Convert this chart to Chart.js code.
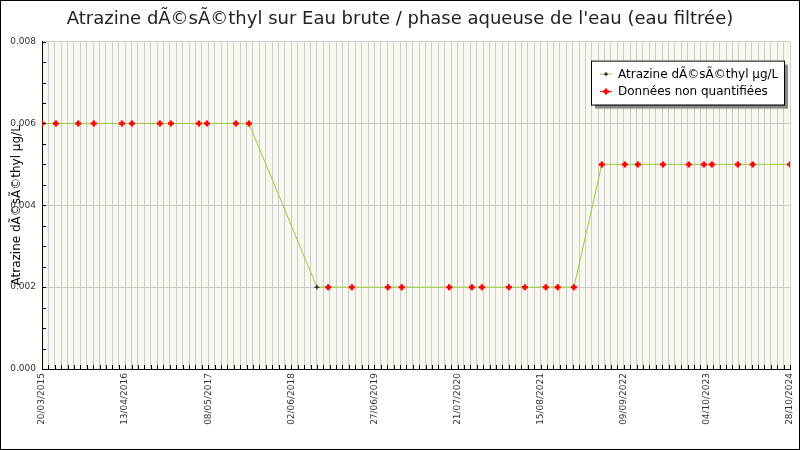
<!DOCTYPE html>
<html>
<head>
<meta charset="utf-8">
<script src="https://cdn.jsdelivr.net/npm/chart.js@4"></script>
<style>
  body { margin: 0; background: #fff; }
  #chart { display: block; }
</style>
</head>
<body>
<canvas id="chart" width="800" height="450"></canvas>
<script>
// sample dates and measured values (µg/L)
const sampleDates = [
    '20/03/2015', '24/05/2015', '06/09/2015', '18/11/2015', '29/03/2016', '15/05/2016',
    '23/09/2016', '14/11/2016', '25/03/2017', '02/05/2017', '15/09/2017', '15/11/2017',
    '30/09/2018', '22/11/2018', '13/03/2019', '29/08/2019', '02/11/2019', '12/06/2020',
    '26/09/2020', '12/11/2020', '19/03/2021', '02/06/2021', '08/09/2021', '03/11/2021',
    '18/01/2022', '29/05/2022', '14/09/2022', '14/11/2022', '12/03/2023', '11/07/2023',
    '20/09/2023', '27/10/2023', '26/02/2024', '06/05/2024', '28/10/2024'
];
const concentrations = [
    0.006, 0.006, 0.006, 0.006, 0.006, 0.006,
    0.006, 0.006, 0.006, 0.006, 0.006, 0.006,
    0.002, 0.002, 0.002, 0.002, 0.002, 0.002,
    0.002, 0.002, 0.002, 0.002, 0.002, 0.002,
    0.002, 0.005, 0.005, 0.005, 0.005, 0.005,
    0.005, 0.005, 0.005, 0.005, 0.005
];
// true = quantified, false = below quantification limit
const quantified = [
    false, false, false, false, false, false,
    false, false, false, false, false, false,
    true, false, false, false, false, false,
    false, false, false, false, false, false,
    false, false, false, false, false, false,
    false, false, false, false, false
];
const xTickLabels = [
    '20/03/2015', '13/04/2016', '08/05/2017', '02/06/2018', '27/06/2019',
    '21/07/2020', '15/08/2021', '09/09/2022', '04/10/2023', '28/10/2024'
];
const yTickLabels = ['0.000', '0.002', '0.004', '0.006', '0.008'];

const DAY = 86400000;
function toDays(s) {
    const [d, m, y] = s.split('/').map(Number);
    return Date.UTC(y, m - 1, d) / DAY;
}
const origin = toDays(xTickLabels[0]);
const xEnd = toDays(xTickLabels[xTickLabels.length - 1]) - origin;
const labelStep = xEnd / (xTickLabels.length - 1); // 390 days
const gridStep = labelStep / 13;                    // 30 days

const linePoints = sampleDates.map((d, i) => ({ x: toDays(d) - origin, y: concentrations[i] }));
const nqPoints = sampleDates
    .map((d, i) => quantified[i] ? null : { x: toDays(d) - origin, y: concentrations[i] })
    .filter(p => p);

const FONT = 'DejaVu Sans';

const frame = {
    id: 'frame',
    beforeDraw(chart) {
        const { ctx, chartArea: a } = chart;
        ctx.save();
        ctx.fillStyle = '#fff';
        ctx.fillRect(0, 0, chart.width, chart.height);
        ctx.fillStyle = '#f8f8f0';
        ctx.fillRect(a.left, a.top, a.right - a.left, a.bottom - a.top);
        ctx.restore();
    },
    afterDraw(chart) {
        const { ctx, chartArea: a, scales } = chart;
        ctx.save();
        // inner tick marks
        ctx.strokeStyle = '#000';
        ctx.lineWidth = 1;
        ctx.beginPath();
        scales.x.ticks.forEach(t => {
            const px = Math.round(scales.x.getPixelForValue(t.value)) + 0.5;
            ctx.moveTo(px, a.bottom);
            ctx.lineTo(px, a.bottom - 4);
        });
        scales.y.ticks.forEach(t => {
            const py = Math.round(scales.y.getPixelForValue(t.value)) + 0.5;
            ctx.moveTo(a.left, py);
            ctx.lineTo(a.left + 4, py);
        });
        ctx.stroke();

        // legend box
        const ds = chart.data.datasets;
        const bx = a.right - 199, by = a.top + 19, bw = 193, bh = 44;
        ctx.fillStyle = '#888';
        ctx.fillRect(bx + 4, by + 4, bw, bh);
        ctx.fillStyle = '#fff';
        ctx.fillRect(bx, by, bw, bh);
        ctx.strokeStyle = '#000';
        ctx.strokeRect(bx + 0.5, by + 0.5, bw, bh);
        ctx.font = '12px ' + FONT;
        ctx.textBaseline = 'middle';
        const rows = [
            { text: ds[0].label, line: ds[0].borderColor, pt: '#000', r: 2, w: 1 },
            { text: ds[1].label, line: '#ff0000', pt: '#ff0000', r: 3, w: 2.5 }
        ];
        rows.forEach((row, i) => {
            const cy = by + 13 + i * 17.5;
            const cx = bx + 15;
            ctx.strokeStyle = row.line;
            ctx.lineWidth = 1;
            ctx.beginPath();
            ctx.moveTo(cx - 6, cy + 0.5);
            ctx.lineTo(cx + 6, cy + 0.5);
            ctx.stroke();
            ctx.strokeStyle = row.pt;
            ctx.lineWidth = row.w;
            ctx.beginPath();
            ctx.moveTo(cx - row.r, cy + 0.5);
            ctx.lineTo(cx + row.r, cy + 0.5);
            ctx.moveTo(cx, cy - row.r + 0.5);
            ctx.lineTo(cx, cy + row.r + 0.5);
            ctx.stroke();
            ctx.fillStyle = '#000';
            ctx.fillText(row.text, bx + 27, cy + 1);
        });

        // outer border
        ctx.strokeStyle = '#000';
        ctx.lineWidth = 1;
        ctx.strokeRect(0.5, 0.5, chart.width - 1, chart.height - 1);
        ctx.restore();
    }
};

new Chart(document.getElementById('chart'), {
    type: 'line',
    data: {
        datasets: [
            {
                label: 'Atrazine dÃ©sÃ©thyl µg/L',
                data: linePoints,
                borderColor: '#9acd32',
                borderWidth: 1,
                pointStyle: 'cross',
                pointRadius: quantified.map(q => q ? 2.5 : 0),
                pointBorderColor: '#000',
                pointBorderWidth: 1,
                tension: 0,
                order: 2
            },
            {
                label: 'Données non quantifiées',
                data: nqPoints,
                showLine: false,
                pointStyle: 'cross',
                pointRadius: 3,
                pointBorderWidth: 2.5,
                pointBorderColor: '#ff0000',
                pointBackgroundColor: '#ff0000',
                order: 1
            }
        ]
    },
    options: {
        responsive: false,
        animation: false,
        devicePixelRatio: 1,
        layout: {
            padding: { left: 10, right: 10, top: 0, bottom: 0 }
        },
        plugins: {
            legend: { display: false },
            tooltip: { enabled: false },
            title: {
                display: true,
                text: 'Atrazine dÃ©sÃ©thyl sur Eau brute / phase aqueuse de l\'eau (eau filtrée)',
                font: { family: FONT, size: 18, weight: 'normal' },
                color: '#222',
                padding: { top: 9, bottom: 11 }
            }
        },
        scales: {
            x: {
                type: 'linear',
                min: 0,
                max: xEnd,
                afterFit: s => { s.height = 81; s.paddingRight = 0; s.paddingLeft = 0; },
                grid: { color: '#cccccc', lineWidth: 1, drawTicks: false },
                border: { display: true, color: '#000', width: 1 },
                ticks: {
                    stepSize: gridStep,
                    autoSkip: false,
                    minRotation: 90,
                    maxRotation: 90,
                    padding: 4,
                    color: '#333',
                    font: { family: FONT, size: 9 },
                    callback: function (value) {
                        const k = value / labelStep;
                        return Math.abs(k - Math.round(k)) < 1e-6 ? xTickLabels[Math.round(k)] : '';
                    }
                }
            },
            y: {
                min: 0,
                max: 0.008,
                afterFit: s => { s.width = 32; },
                title: {
                    display: true,
                    text: 'Atrazine dÃ©sÃ©thyl µg/L',
                    font: { family: FONT, size: 12 },
                    color: '#000',
                    padding: { top: 0, bottom: 0 }
                },
                grid: {
                    drawTicks: false,
                    color: ctx => {
                        const k = ctx.tick.value / 0.002;
                        return Math.abs(k - Math.round(k)) < 1e-6 ? '#cccccc' : 'rgba(0,0,0,0)';
                    }
                },
                border: { display: true, color: '#000', width: 1 },
                ticks: {
                    stepSize: 0.0005,
                    autoSkip: false,
                    padding: 6,
                    color: '#333',
                    font: { family: FONT, size: 9 },
                    callback: function (value) {
                        const k = value / 0.002;
                        return Math.abs(k - Math.round(k)) < 1e-6 ? yTickLabels[Math.round(k)] : '';
                    }
                }
            }
        }
    },
    plugins: [frame]
});
</script>
</body>
</html>
